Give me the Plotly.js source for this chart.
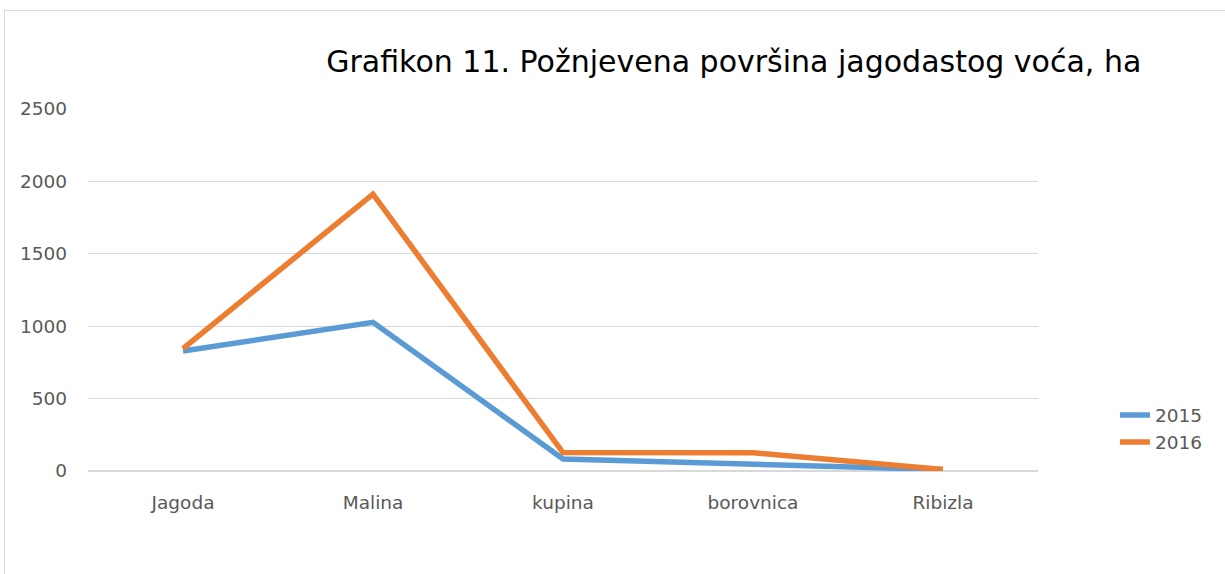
<!DOCTYPE html>
<html><head><meta charset="utf-8">
<script src="https://cdn.plot.ly/plotly-3.0.1.min.js"></script>
<style>
html,body{margin:0;padding:0;background:#fff;}
#wrap{position:relative;width:1225px;height:574px;overflow:hidden;}
#chart{position:absolute;left:0;top:0;width:1225px;height:574px;}
#frame{position:absolute;left:4px;top:10px;width:1300px;height:700px;border-left:1px solid #d9d9d9;border-top:1px solid #d9d9d9;pointer-events:none;}
</style></head>
<body><div id="wrap"><div id="chart"></div><div id="frame"></div></div>
<script>
const categories = ["Jagoda", "Malina", "kupina", "borovnica", "Ribizla"];
const values2015 = [829, 1027, 83, 51, 10];
const values2016 = [845, 1912, 127, 126, 10];
const seriesNames = ["2015", "2016"];
const yTicks = [0, 500, 1000, 1500, 2000, 2500];

const FONT = "'DejaVu Sans', sans-serif";
const traces = [
  {x: categories, y: values2015, name: seriesNames[0], type: "scatter", mode: "lines",
   line: {color: "#5B9BD5", width: 5.5}},
  {x: categories, y: values2016, name: seriesNames[1], type: "scatter", mode: "lines",
   line: {color: "#ED7D31", width: 5.5}}
];
const layout = {
  width: 1225, height: 574,
  margin: {l: 88, r: 187, t: 109, b: 103},
  paper_bgcolor: "rgba(0,0,0,0)", plot_bgcolor: "#fff",
  font: {family: FONT, color: "#595959", size: 18.5},
  title: {text: "Grafikon 11. Požnjevena površina jagodastog voća, ha",
    font: {family: FONT, size: 30, color: "#000"},
    xref: "container", yref: "container", x: 0.599, xanchor: "center", y: 0.892, yanchor: "middle"},
  xaxis: {type: "category", range: [-0.5, 4.5], showgrid: false, zeroline: false,
    showline: false, ticks: "", ticklabelstandoff: 18, fixedrange: true},
  yaxis: {range: [0, 2500], tickvals: yTicks, showgrid: true, gridcolor: "#d9d9d9", gridwidth: 1,
    zeroline: true, zerolinecolor: "#d9d9d9", zerolinewidth: 2, showline: false, ticks: "",
    ticklabelstandoff: 20, fixedrange: true},
  legend: {x: 1.081, xanchor: "left", y: 0.116, yanchor: "middle", font: {size: 18.5, color: "#595959"},
    tracegroupgap: 0, itemwidth: 30},
  showlegend: true
};
Plotly.newPlot("chart", traces, layout, {staticPlot: true});
</script></body></html>
